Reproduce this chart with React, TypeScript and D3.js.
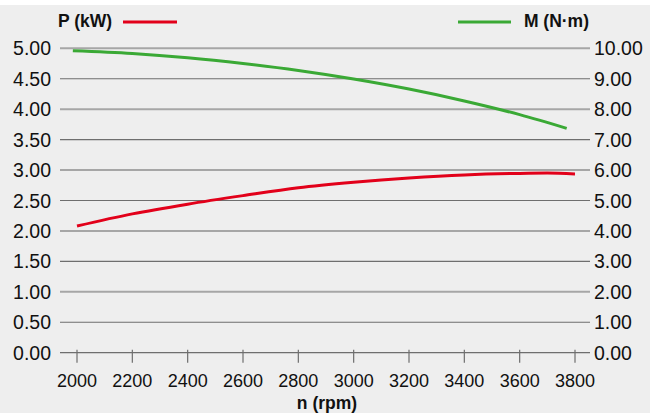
import React from "react";
import * as d3 from "d3";

const rpmP = [2000, 2200, 2400, 2600, 2800, 3000, 3200, 3400, 3600, 3700, 3800];
const powerKW = [2.08, 2.28, 2.44, 2.58, 2.71, 2.80, 2.87, 2.92, 2.945, 2.95, 2.935];
const rpmM = [1985, 2200, 2400, 2600, 2800, 3000, 3200, 3400, 3600, 3770];
const torqueNm = [9.92, 9.83, 9.69, 9.50, 9.27, 8.99, 8.66, 8.27, 7.82, 7.37];
const xTicks = [2000, 2200, 2400, 2600, 2800, 3000, 3200, 3400, 3600, 3800];
const leftTicks = [0, 0.5, 1, 1.5, 2, 2.5, 3, 3.5, 4, 4.5, 5];
const rightTicks = [0, 1, 2, 3, 4, 5, 6, 7, 8, 9, 10];

const W = 650;
const H = 413;
const FONT = "'Liberation Sans', Arial, Helvetica, sans-serif";

export default function App() {
  const x = d3.scaleLinear().domain([2000, 3800]).range([77, 575]);
  const yL = d3.scaleLinear().domain([0, 5]).range([352.7, 48.3]);
  const yR = d3.scaleLinear().domain([0, 10]).range([352.7, 48.3]);
  const gx0 = 60;
  const gx1 = 590;

  const lineP = d3
    .line<number>()
    .x((_, i) => x(rpmP[i]))
    .y((d) => yL(d))
    .curve(d3.curveMonotoneX)(powerKW) as string;
  const lineM = d3
    .line<number>()
    .x((_, i) => x(rpmM[i]))
    .y((d) => yR(d))
    .curve(d3.curveMonotoneX)(torqueNm) as string;

  return (
    <svg
      width={W}
      height={H}
      style={{ position: "absolute", left: 0, top: 0, display: "block" }}
      fontFamily={FONT}
    >
      <rect x={0} y={0} width={W} height={H} fill="#ffffff" />
      <rect x={0} y={5} width={W} height={H - 5} fill="#eeeeee" />

      {leftTicks.map((t) => {
        const major = Number.isInteger(t) && t !== 0;
        return (
          <line
            key={"g" + t}
            x1={gx0}
            x2={gx1}
            y1={yL(t)}
            y2={yL(t)}
            stroke={major ? "#a6a6a6" : "#6e6e6e"}
            strokeWidth={major ? 2 : 1.2}
          />
        );
      })}

      {xTicks.map((t) => (
        <line
          key={"t" + t}
          x1={x(t)}
          x2={x(t)}
          y1={yL(0) - 3}
          y2={yL(0) + 10}
          stroke="#6e6e6e"
          strokeWidth={1.2}
        />
      ))}

      {leftTicks.map((t) => (
        <text
          key={"l" + t}
          x={51}
          y={yL(t) + 7}
          textAnchor="end"
          fontSize={19.5}
          fill="#111"
        >
          {t.toFixed(2)}
        </text>
      ))}
      {rightTicks.map((t) => (
        <text
          key={"r" + t}
          x={594}
          y={yR(t) + 7}
          textAnchor="start"
          fontSize={19.5}
          fill="#111"
        >
          {t.toFixed(2)}
        </text>
      ))}
      {xTicks.map((t) => (
        <text
          key={"x" + t}
          x={x(t)}
          y={386.5}
          textAnchor="middle"
          fontSize={18}
          fill="#111"
        >
          {t}
        </text>
      ))}

      <path d={lineM} fill="none" stroke="#3aa935" strokeWidth={3} />
      <path d={lineP} fill="none" stroke="#e2001a" strokeWidth={3} />

      <text x={58} y={27} fontSize={17.5} fontWeight="bold" fill="#111">
        P (kW)
      </text>
      <line x1={123} x2={177} y1={22} y2={22} stroke="#e2001a" strokeWidth={3} />
      <line x1={458} x2={511} y1={22} y2={22} stroke="#3aa935" strokeWidth={3} />
      <text x={589} y={27} textAnchor="end" fontSize={17.5} fontWeight="bold" fill="#111">
        M (N·m)
      </text>
      <text x={327} y={409} textAnchor="middle" fontSize={17.5} fontWeight="bold" fill="#111">
        n (rpm)
      </text>
    </svg>
  );
}
